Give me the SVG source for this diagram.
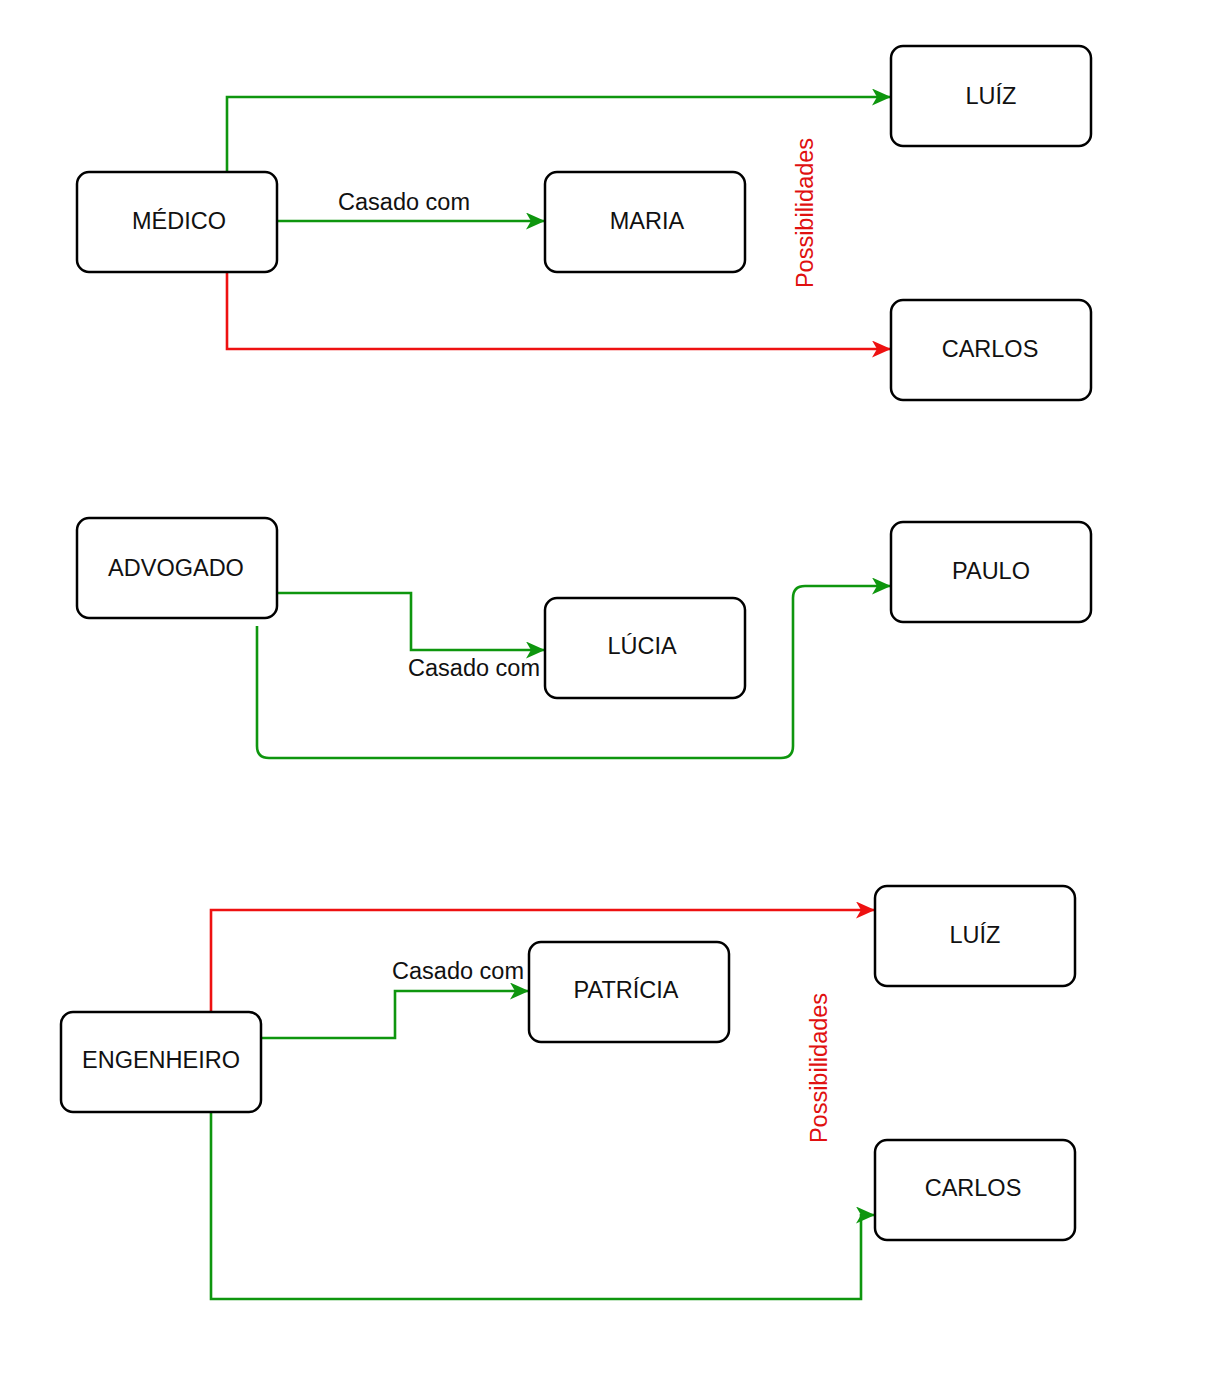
<svg xmlns="http://www.w3.org/2000/svg" width="1228" height="1396" viewBox="0 0 1228 1396">
  <style>
    .node rect { fill: #ffffff; stroke: #000000; stroke-width: 2.5; }
    .node text { font-family: "Liberation Sans", Arial, sans-serif; font-size: 23.5px; fill: #111111; text-anchor: middle; }
    .edge { fill: none; stroke-width: 2.6; }
    .green { stroke: #0e960e; }
    .red { stroke: #ee1111; }
    .label { font-family: "Liberation Sans", Arial, sans-serif; font-size: 23.5px; fill: #111111; }
    .note { font-family: "Liberation Sans", Arial, sans-serif; font-size: 23.5px; fill: #e01010; text-anchor: middle; }
  </style>
  <defs>
    <marker id="arrow-green" markerUnits="userSpaceOnUse" viewBox="0 0 19 17" markerWidth="19" markerHeight="17" refX="18" refY="8.5" orient="auto">
      <path d="M0,0 L19,8.5 L0,17 L5,8.5 Z" fill="#0e960e"/>
    </marker>
    <marker id="arrow-red" markerUnits="userSpaceOnUse" viewBox="0 0 19 17" markerWidth="19" markerHeight="17" refX="18" refY="8.5" orient="auto">
      <path d="M0,0 L19,8.5 L0,17 L5,8.5 Z" fill="#ee1111"/>
    </marker>
  </defs>
  <rect width="1228" height="1396" fill="#ffffff"/>

  <g id="connectors">
    <!-- MÉDICO -->
    <path class="edge green" d="M227,172 V97 H890" marker-end="url(#arrow-green)"/>
    <path class="edge green" d="M277,221 H544" marker-end="url(#arrow-green)"/>
    <path class="edge red" d="M227,272 V349 H890" marker-end="url(#arrow-red)"/>
    <text class="label" x="404" y="210" text-anchor="middle">Casado com</text>

    <!-- ADVOGADO -->
    <path class="edge green" d="M277,593 H411 V650 H544" marker-end="url(#arrow-green)"/>
    <path class="edge green" d="M257,626 V746 Q257,758 269,758 H781 Q793,758 793,746 V598 Q793,586 805,586 H890" marker-end="url(#arrow-green)"/>
    <text class="label" x="540" y="676" text-anchor="end">Casado com</text>

    <!-- ENGENHEIRO -->
    <path class="edge red" d="M211,1012 V910 H874" marker-end="url(#arrow-red)"/>
    <path class="edge green" d="M261,1038 H395 V991 H528" marker-end="url(#arrow-green)"/>
    <path class="edge green" d="M211,1112 V1299 H861 V1215 H874" marker-end="url(#arrow-green)"/>
    <text class="label" x="524" y="979" text-anchor="end">Casado com</text>

    <!-- side notes -->
    <text class="note" transform="translate(813,213) rotate(-90)">Possibilidades</text>
    <text class="note" transform="translate(827,1068) rotate(-90)">Possibilidades</text>
  </g>

  <g id="medico" class="node"><rect x="77" y="172" width="200" height="100" rx="12"/><text x="179" y="229">MÉDICO</text></g>
  <g id="maria" class="node"><rect x="545" y="172" width="200" height="100" rx="12"/><text x="647" y="229">MARIA</text></g>
  <g id="luiz-1" class="node"><rect x="891" y="46" width="200" height="100" rx="12"/><text x="991" y="104">LUÍZ</text></g>
  <g id="carlos-1" class="node"><rect x="891" y="300" width="200" height="100" rx="12"/><text x="990" y="357">CARLOS</text></g>

  <g id="advogado" class="node"><rect x="77" y="518" width="200" height="100" rx="12"/><text x="176" y="576">ADVOGADO</text></g>
  <g id="lucia" class="node"><rect x="545" y="598" width="200" height="100" rx="12"/><text x="642" y="654">LÚCIA</text></g>
  <g id="paulo" class="node"><rect x="891" y="522" width="200" height="100" rx="12"/><text x="991" y="579">PAULO</text></g>

  <g id="engenheiro" class="node"><rect x="61" y="1012" width="200" height="100" rx="12"/><text x="161" y="1068">ENGENHEIRO</text></g>
  <g id="patricia" class="node"><rect x="529" y="942" width="200" height="100" rx="12"/><text x="626" y="998">PATRÍCIA</text></g>
  <g id="luiz-2" class="node"><rect x="875" y="886" width="200" height="100" rx="12"/><text x="975" y="943">LUÍZ</text></g>
  <g id="carlos-2" class="node"><rect x="875" y="1140" width="200" height="100" rx="12"/><text x="973" y="1196">CARLOS</text></g>
</svg>
